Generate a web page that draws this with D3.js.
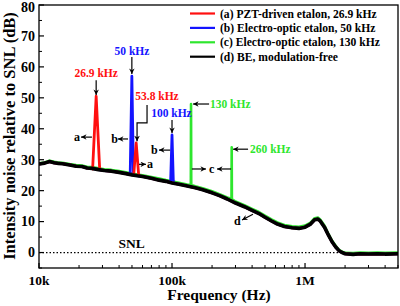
<!DOCTYPE html>
<html><head><meta charset="utf-8">
<script src="https://cdn.jsdelivr.net/npm/d3@7"></script>
<style>
html,body{margin:0;padding:0;background:#fff;}
svg text{font-family:"Liberation Serif","Times New Roman",serif;font-weight:bold;}
</style></head>
<body><div id="chart"></div>
<script>
// ---------- data ----------
const baseFreq = [10000,11000,12000,13000,14000,15000,17000,19000,21000,23000,25000,28000,31000,35000,40000,45000,50000,55000,60000,70000,80000,90000,100000,115000,130000,150000,170000,200000,230000,260000,300000,350000,400000,450000,500000,560000,620000,700000,800000,900000,1000000,1100000,1180000,1250000,1300000,1400000,1500000,1600000,1700000,1800000,1900000,2000000,2300000,2600000,3000000,3500000,4000000,5000000];
const baseD = [28.6,28.9,29.4,29.0,28.8,28.7,28.3,27.9,27.8,27.3,27.2,26.8,26.5,26.3,25.9,25.5,25.1,24.8,24.6,24.0,23.4,23.0,22.5,22.0,21.5,20.9,20.3,19.3,18.3,17.3,16.0,14.8,13.6,12.6,11.4,10.2,9.2,8.4,8.0,7.8,8.2,9.2,10.6,10.8,10.2,8.2,5.6,3.4,1.8,0.6,0.0,-0.4,-0.6,-0.4,-0.5,-0.4,-0.5,-0.4];
const baseC = [28.8,29.1,29.7,29.3,29.1,29.0,28.6,28.3,28.1,27.7,27.6,27.2,26.9,26.7,26.3,25.9,25.5,25.2,25.0,24.4,23.9,23.4,23.0,22.5,22.0,21.4,20.8,19.8,18.8,17.8,16.5,15.3,14.1,13.1,11.9,10.7,9.7,8.9,8.5,8.3,8.7,9.7,11.1,11.3,10.7,8.7,6.0,3.8,2.2,0.9,0.3,-0.1,-0.2,0.0,-0.1,0.0,-0.1,0.0];

// peaks: [freq, dB] points (foot, apex, foot)
const peaksA = [[25300,27.0],[26900,50.5],[28600,26.8],[51500,25.0],[53800,35.4],[56200,24.8]];
const peaksB = [[48500,25.3],[49900,57.0],[51300,25.1],[97600,22.6],[100000,38.0],[102400,22.4]];
const peaksC = [[138500,21.9],[139000,48.0],[139500,21.8],[280000,17.4],[281000,34.0],[282000,17.3]];

const seriesNames = ["(a) PZT-driven etalon, 26.9 kHz","(b) Electro-optic etalon, 50 kHz","(c) Electro-optic etalon, 130 kHz","(d) BE, modulation-free"];
const seriesColors = ["#ff1010","#1414ff","#2ee62e","#000000"];

const xTickVals = [1e4,1e5,1e6];
const xTickLabels = ["10k","100k","1M"];
const yTickVals = [0,10,20,30,40,50,60,70,80];

// annotations: text labels in data coords
const peakLabels = [
  {t:"26.9 kHz", f:26900, v:58.0, c:0, anchor:"middle"},
  {t:"50 kHz", f:50000, v:65.1, c:1, anchor:"middle"},
  {t:"53.8 kHz", f:77100, v:50.6, c:0, anchor:"middle"},
  {t:"100 kHz", f:99000, v:45.1, c:1, anchor:"middle"},
  {t:"130 kHz", f:193000, v:48.0, c:2, anchor:"start"},
  {t:"260 kHz", f:386000, v:33.4, c:2, anchor:"start"}
];
const letterLabels = [
  {t:"a", f:19300, v:37.3},{t:"b", f:37000, v:36.7},{t:"b", f:73800, v:33.1},
  {t:"a", f:68400, v:28.5},{t:"c", f:199000, v:27.0},{t:"d", f:310000, v:9.9}
];
// arrows: from [f,v] to [f,v] (head at 'to')
const arrows = [
  [[26900,55.7],[26900,50.9]],
  [[49900,63.2],[49900,57.7]],
  [[100000,42.8],[100000,38.6]],
  [[190000,48.0],[144000,48.0]],
  [[373000,33.4],[288000,33.4]],
  [[25000,37.3],[20700,37.3]],
  [[46700,36.7],[39200,36.7]],
  [[96800,33.1],[79800,33.1]],
  [[56500,28.5],[63700,28.5]],
  [[141000,27.0],[180000,27.0]],
  [[278000,27.0],[218000,27.0]],
  [[406000,12.4],[336000,10.5]]
];
const bentArrow = [[64900,47.7],[64900,41.9],[54600,41.9],[54600,36.0]];

// ---------- chart ----------
const W=400,H=306;
const svg=d3.select("#chart").append("svg").attr("width",W).attr("height",H);
const x=d3.scaleLog().domain([1e4,5e6]).range([39,398]);
const y=d3.scaleLinear().domain([-5,80]).range([268,5]);

const defs=svg.append("defs");
defs.append("clipPath").attr("id","clip").append("rect")
  .attr("x",39).attr("y",5).attr("width",359).attr("height",263);
defs.append("marker").attr("id","ah").attr("viewBox","0 0 10 10")
  .attr("refX",10).attr("refY",5).attr("markerWidth",7).attr("markerHeight",5.5)
  .attr("markerUnits","userSpaceOnUse").attr("orient","auto")
  .append("path").attr("d","M0,0 L10,5 L0,10 L3,5 Z").attr("fill","#000");

function mergeSeries(base, peaks){
  const pts = baseFreq.map((f,i)=>[f,base[i]]);
  if(!peaks) return pts;
  let all=pts.filter(p=>!peaks.some((q,j)=>j%3===0 && p[0]>=q[0] && p[0]<=peaks[j+2][0]));
  return all.concat(peaks).sort((a,b)=>a[0]-b[0]);
}
const line=d3.line().x(d=>x(d[0])).y(d=>y(d[1]));
const g=svg.append("g").attr("clip-path","url(#clip)");

// SNL dotted line
g.append("line").attr("x1",x(1e4)).attr("x2",x(5e6)).attr("y1",y(0)).attr("y2",y(0))
  .attr("stroke","#000").attr("stroke-width",1.2).attr("stroke-dasharray","1.5,2");

g.append("path").datum(mergeSeries(baseC,peaksC)).attr("d",line)
  .attr("fill","none").attr("stroke",seriesColors[2]).attr("stroke-width",2.6).attr("stroke-linejoin","round");
g.append("path").datum(mergeSeries(baseD,peaksB)).attr("d",line)
  .attr("fill","none").attr("stroke",seriesColors[1]).attr("stroke-width",2.8).attr("stroke-linejoin","round");
g.append("path").datum(mergeSeries(baseD,peaksA)).attr("d",line)
  .attr("fill","none").attr("stroke",seriesColors[0]).attr("stroke-width",2.8).attr("stroke-linejoin","round");
g.append("path").datum(mergeSeries(baseD,null)).attr("d",line)
  .attr("fill","none").attr("stroke",seriesColors[3]).attr("stroke-width",3.6).attr("stroke-linejoin","round");

// frame
svg.append("rect").attr("x",39).attr("y",5).attr("width",359).attr("height",263)
  .attr("fill","none").attr("stroke","#000").attr("stroke-width",1.3);

// x axis
const xMinor=[];
for(let dec=1e4;dec<5e6;dec*=10){for(let k=2;k<=9;k++){const v=k*dec;if(v<=5e6)xMinor.push(v);}}
const xa=svg.append("g").attr("transform","translate(0,268)");
xa.selectAll("line.maj").data(xTickVals).join("line").attr("x1",d=>x(d)).attr("x2",d=>x(d))
  .attr("y1",0).attr("y2",-5).attr("stroke","#000").attr("stroke-width",1.2);
xa.selectAll("line.min").data(xMinor).join("line").attr("x1",d=>x(d)).attr("x2",d=>x(d))
  .attr("y1",0).attr("y2",-3).attr("stroke","#000").attr("stroke-width",1);
xa.selectAll("text").data(xTickVals).join("text").attr("x",d=>x(d)).attr("y",17)
  .attr("text-anchor","middle").attr("font-size",13.5).text((d,i)=>xTickLabels[i]);

// y axis
const ya=svg.append("g").attr("transform","translate(39,0)");
ya.selectAll("line.maj").data(yTickVals).join("line").attr("x1",0).attr("x2",5)
  .attr("y1",d=>y(d)).attr("y2",d=>y(d)).attr("stroke","#000").attr("stroke-width",1.2);
ya.selectAll("line.min").data(d3.range(-5,80,10)).join("line").attr("x1",0).attr("x2",3)
  .attr("y1",d=>y(d)).attr("y2",d=>y(d)).attr("stroke","#000").attr("stroke-width",1);
ya.selectAll("text").data(yTickVals).join("text").attr("x",-4).attr("y",d=>Math.max(y(d),7))
  .attr("dy","0.35em").attr("text-anchor","end").attr("font-size",14).text(d=>d);

svg.append("text").attr("x",219).attr("y",300).attr("text-anchor","middle").attr("font-size",15.5)
  .text("Frequency (Hz)");
svg.append("text").attr("transform","translate(15,136) rotate(-90)").attr("text-anchor","middle")
  .attr("font-size",16.5).text("Intensity noise relative to SNL (dB)");

// legend
const lg=svg.append("g");
seriesNames.forEach((n,i)=>{
  const yy=13.5+i*14.4;
  lg.append("line").attr("x1",190).attr("x2",215).attr("y1",yy).attr("y2",yy)
    .attr("stroke",seriesColors[i]).attr("stroke-width",2.2);
  lg.append("text").attr("x",220).attr("y",yy).attr("dy","0.35em").attr("font-size",11.6).text(n);
});

// annotations
const an=svg.append("g");
peakLabels.forEach(p=>{
  an.append("text").attr("x",x(p.f)).attr("y",y(p.v)).attr("dy","0.35em")
    .attr("text-anchor",p.anchor).attr("font-size",11.5).attr("fill",seriesColors[p.c]).text(p.t);
});
letterLabels.forEach(p=>{
  an.append("text").attr("x",x(p.f)).attr("y",y(p.v)).attr("dy","0.3em")
    .attr("text-anchor","middle").attr("font-size",12).text(p.t);
});
arrows.forEach(a=>{
  an.append("line").attr("x1",x(a[0][0])).attr("y1",y(a[0][1])).attr("x2",x(a[1][0])).attr("y2",y(a[1][1]))
    .attr("stroke","#000").attr("stroke-width",1.2).attr("marker-end","url(#ah)");
});
an.append("path").datum(bentArrow).attr("d",line).attr("fill","none").attr("stroke","#000")
  .attr("stroke-width",1.2).attr("marker-end","url(#ah)");
an.append("text").attr("x",x(49800)).attr("y",y(3.1)).attr("dy","0.35em").attr("text-anchor","middle")
  .attr("font-size",13.5).text("SNL");
</script></body></html>
